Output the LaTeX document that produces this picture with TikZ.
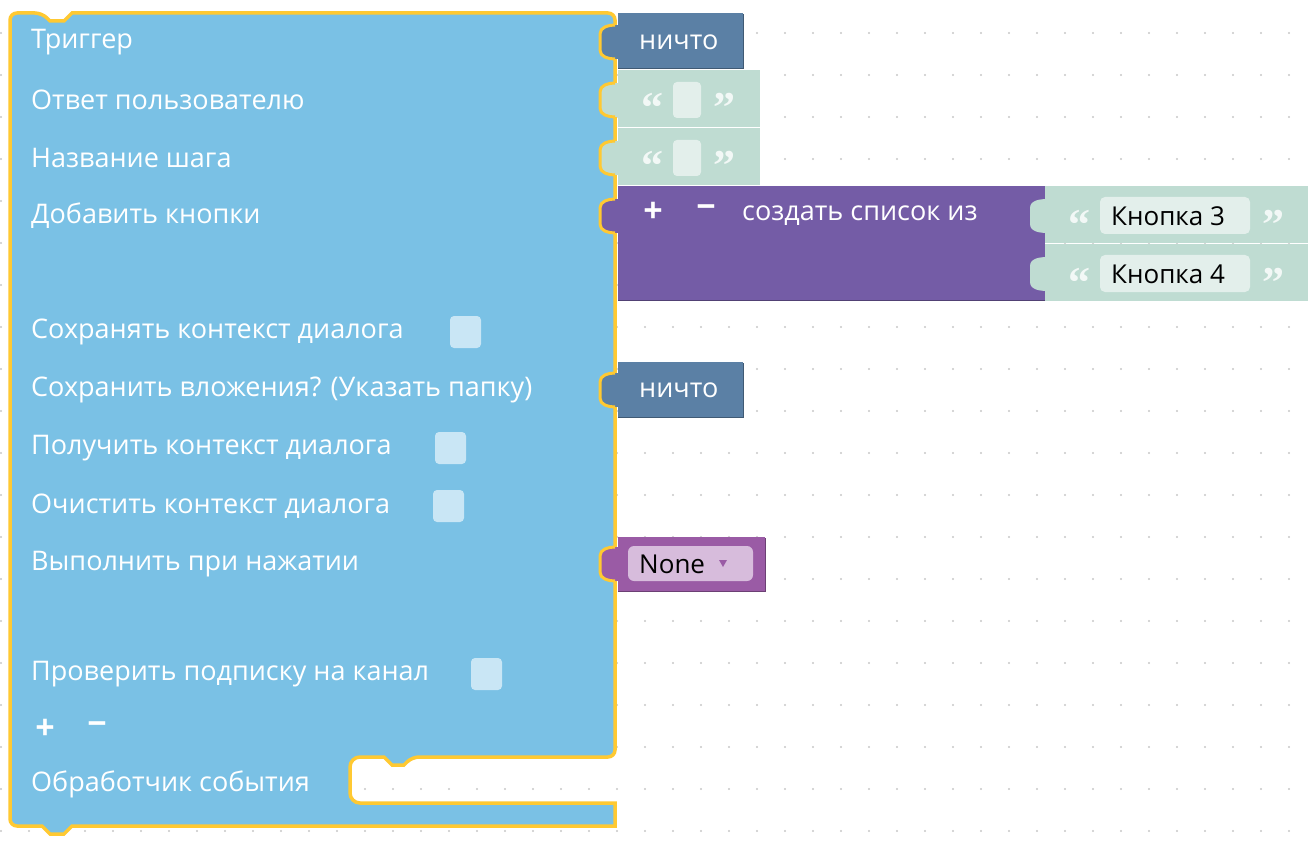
\documentclass[tikz,border=0pt]{standalone}
\usepackage{fontspec}
\setmainfont{Open Sans}
\newfontfamily\quotefont{Liberation Serif}
\usetikzlibrary{positioning}
\definecolor{blockblue}{HTML}{7AC1E5}
\definecolor{blockedge}{HTML}{FFC932}
\definecolor{nullblue}{HTML}{5B80A5}
\definecolor{textgreen}{HTML}{BFDCD2}
\definecolor{fieldgreen}{HTML}{E3EFEB}
\definecolor{listpurple}{HTML}{745CA6}
\definecolor{varpurple}{HTML}{9A5BA5}
\definecolor{varfield}{HTML}{D7BCDC}
\definecolor{checkfill}{HTML}{C9E6F5}
\definecolor{griddot}{HTML}{C8C8C8}
% socket on the right edge of a block, filled with the child's colour
\newcommand{\socket}[3]{%
  \fill[#2] (#1+3,#3-17) to[out=180,in=90] (#1-15,#3-8) -- (#1-15,#3+8)
    to[out=270,in=180] (#1+3,#3+17) -- cycle;
  \draw[blockedge,line width=3pt] (#1,#3-17) to[out=180,in=90] (#1-15,#3-8)
    -- (#1-15,#3+8) to[out=270,in=180] (#1,#3+17);}
\begin{document}
\begin{tikzpicture}[x=1pt,y=-1pt,
    lbl/.style = {anchor=west, inner sep=0pt, text=white, font=\fontsize{27}{30}\selectfont},
    fieldtxt/.style = {anchor=west, inner sep=0pt, text=black, font=\fontsize{26}{30}\selectfont},
    quote/.style = {inner sep=0pt, text=white!80!textgreen, font=\quotefont\bfseries\fontsize{44}{44}\selectfont},
    checkbox/.style = {fill=checkfill, rounded corners=4pt},
    pm/.style = {inner sep=0pt, text=white, font=\bfseries\fontsize{34}{34}\selectfont}]
  \useasboundingbox (0,0) rectangle (1316,842);
  \fill[white] (0,0) rectangle (1316,842);
  % grid
  \foreach \gx in {1,29,...,1316}
    \foreach \gy in {33,75,...,842}
      \fill[griddot] (\gx,\gy) circle (1.2);

  % main block
  \draw[blockedge, fill=blockblue, line width=3.5pt, rounded corners=7pt]
    (10,826) -- (10,13) -- (42,13) [sharp corners] -- (50,21) -- (64,21) -- (72,13)
    [rounded corners=7pt] -- (615,13) -- (615,757) -- (412,757)
    [sharp corners] -- (404,765) -- (392,765) -- (384,757)
    [rounded corners=10pt] -- (350,757) -- (350,803) [sharp corners] -- (615,803)
    -- (615,826) -- (72,826) -- (64,834) -- (50,834) -- (42,826)
    [rounded corners=7pt] -- cycle;

  % labels
  \node (trig) [lbl] at (31,42) {Триггер};
  \node (resp) [lbl] at (31,100) {Ответ пользователю};
  \node (name) [lbl] at (31,158) {Название шага};
  \node (btns) [lbl] at (31,216) {Добавить кнопки};
  \node (keep) [lbl] at (31,332) {Сохранять контекст диалога};
  \node (save) [lbl] at (31,390) {Сохранить вложения? (Указать папку)};
  \node (get) [lbl] at (31,448) {Получить контекст диалога};
  \node (clear) [lbl] at (31,506) {Очистить контекст диалога};
  \node (run) [lbl] at (31,564) {Выполнить при нажатии};
  \node (sub) [lbl] at (31,674) {Проверить подписку на канал};
  \node (plus) [pm] at (45,729) {+};
  \node (minus) [pm] at (97,729) {\textminus};
  \node (handler) [lbl] at (31,784) {Обработчик события};

  % checkboxes
  \fill[checkbox] (450,316) rectangle (481,348);
  \fill[checkbox] (435,432) rectangle (466,464);
  \fill[checkbox] (433,490) rectangle (464,522);
  \fill[checkbox] (471,658) rectangle (502,690);

  % child blocks
  \fill[nullblue] (618,13) rectangle (743,68);
  \draw[nullblue!70!black] (743,14) -- (743,68) -- (618,68);
  \socket{615}{nullblue}{42}
  \node (null1) [lbl] at (639,42) {ничто};

  \foreach \ty in {70,128} {
    \fill[textgreen] (618,\ty) rectangle (760,\ty+57);
    \node [quote] at (652,\ty+38) {“};
    \node [quote] at (724,\ty+38) {”};
    \fill[fieldgreen, rounded corners=4pt] (673,\ty+12) rectangle (701,\ty+48);
  }
  \socket{615}{textgreen}{100}
  \socket{615}{textgreen}{158}

  \fill[listpurple] (618,186) rectangle (1045,300);
  \draw[listpurple!70!black] (618,300) -- (1045,300);
  \socket{615}{listpurple}{216}
  \node (lplus) [pm] at (653,212) {+};
  \node (lminus) [pm] at (706,212) {\textminus};
  \node (mklist) [lbl] at (742,216) {создать список из};

  \foreach \ty/\txt in {186/Кнопка 3, 244/Кнопка 4} {
    \fill[textgreen] (1045,\ty) rectangle (1308,\ty+57);
    \node [quote] at (1079,\ty+39) {“};
    \node [quote] at (1273,\ty+39) {”};
    \fill[fieldgreen, rounded corners=5pt] (1100,\ty+11) rectangle (1250,\ty+48);
    \node [fieldtxt] at (1111,\ty+30) {\txt};
  }
  \fill[textgreen] (1048,199) to[out=180,in=90] (1030,208) -- (1030,224) to[out=270,in=180] (1048,233) -- cycle;
  \fill[textgreen] (1048,257) to[out=180,in=90] (1030,266) -- (1030,282) to[out=270,in=180] (1048,291) -- cycle;

  \fill[nullblue] (618,362) rectangle (743,417);
  \draw[nullblue!70!black] (743,363) -- (743,417) -- (618,417);
  \socket{615}{nullblue}{390}
  \node (null2) [lbl] at (639,390) {ничто};

  \fill[varpurple] (618,537) rectangle (765,591);
  \draw[varpurple!70!black] (765,538) -- (765,591) -- (618,591);
  \socket{615}{varpurple}{564}
  \fill[varfield, rounded corners=6pt] (628,546) rectangle (753,581);
  \node (none) [fieldtxt] at (639,564) {None};
  \fill[varpurple] (719,560) -- (727,560) -- (723,567) -- cycle;
\end{tikzpicture}
\end{document}
